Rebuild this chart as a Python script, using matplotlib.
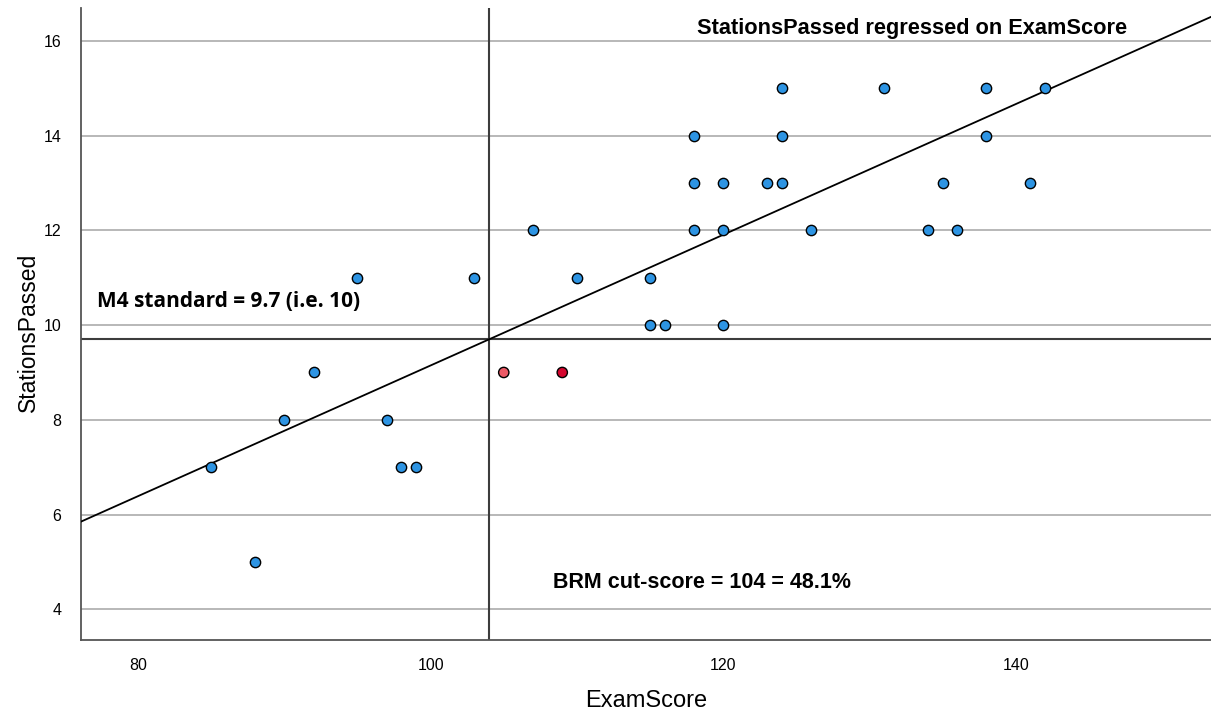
import matplotlib
matplotlib.use("Agg")
import matplotlib.pyplot as plt
import numpy as np

# data
exam_score = [85, 88, 90, 92, 95, 97, 98, 99, 103, 107, 110, 115, 115, 116,
              118, 118, 118, 120, 120, 120, 123, 124, 124, 124, 126, 131,
              134, 135, 136, 138, 138, 141, 142]
stations_passed = [7, 5, 8, 9, 11, 8, 7, 7, 11, 12, 11, 11, 10, 10,
                   14, 13, 12, 13, 12, 10, 13, 15, 14, 13, 12, 15,
                   12, 13, 12, 15, 14, 13, 15]
# the two highlighted points below the standard
red_score = [105, 109]
red_passed = [9, 9]
red_colors = ["#ec5a66", "#d4062e"]

cut_score = 104
m4_standard = 9.7
slope = 0.138
x_range = (76.1, 153.35)
y_range = (3.35, 16.7)
y_ticks = [4, 6, 8, 10, 12, 14, 16]
x_ticks = [80, 100, 120, 140]

arial = ["Liberation Sans", "DejaVu Sans"]

fig = plt.figure(figsize=(12.11, 7.11), dpi=100)
ax = fig.add_axes([0.0669, 0.0999, 0.9331, 0.889])
ax.set_xlim(*x_range)
ax.set_ylim(*y_range)

for yt in y_ticks:
    ax.axhline(yt, color="#b8b8b8", lw=1.4, zorder=1)

ax.axvline(cut_score, color="#3c3c3c", lw=1.5, zorder=2)
ax.axhline(m4_standard, color="#3c3c3c", lw=1.5, zorder=2)

xs = np.array(x_range)
ax.plot(xs, m4_standard + slope * (xs - cut_score), color="black", lw=1.3,
        zorder=3)

ax.scatter(exam_score, stations_passed, s=55, color="#2d94e3",
           edgecolor="black", linewidth=1.0, zorder=4)
ax.scatter(red_score, red_passed, s=55, color=red_colors,
           edgecolor="black", linewidth=1.0, zorder=4)

ax.text(132.9, 16.27, "StationsPassed regressed on ExamScore", ha="center",
        va="center", fontsize=15.7, fontweight="bold", family=arial)
ax.text(77.2, 10.49, "M4 standard = 9.7 (i.e. 10)", ha="left", va="center",
        fontsize=15, fontweight="bold", family=["Open Sans", "DejaVu Sans"])
ax.text(108.4, 4.57, "BRM cut-score = 104 = 48.1%", ha="left", va="center",
        fontsize=15.5, fontweight="bold", family=arial)

for side in ["top", "right"]:
    ax.spines[side].set_visible(False)
for side in ["left", "bottom"]:
    ax.spines[side].set_color("#555555")
    ax.spines[side].set_linewidth(1.3)

ax.set_xticks(x_ticks)
ax.set_yticks(y_ticks)
ax.tick_params(length=0, labelsize=11.5)
ax.tick_params(axis="x", pad=13)
ax.tick_params(axis="y", pad=14)
for lab in ax.get_xticklabels() + ax.get_yticklabels():
    lab.set_family(arial)

ax.set_xlabel("ExamScore", fontsize=17, family=arial, labelpad=12)
ax.set_ylabel("StationsPassed", fontsize=16.5, family=arial, labelpad=3)
ax.yaxis.label.set_y(0.487)

fig.savefig("out.png", dpi=100)
